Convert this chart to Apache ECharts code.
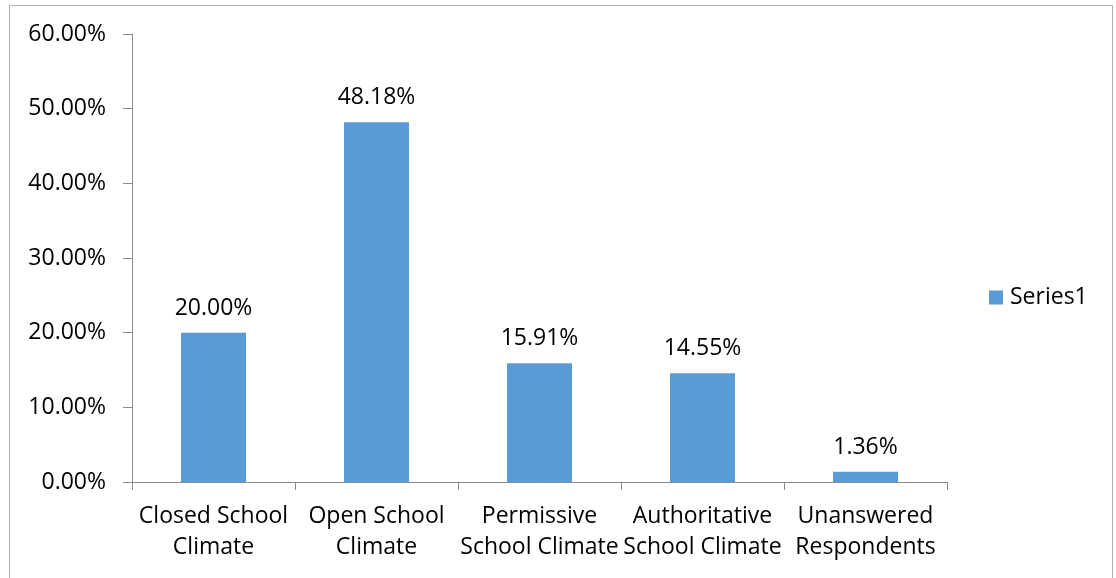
<!DOCTYPE html>
<html>
<head>
<meta charset="utf-8">
<script src="https://cdn.jsdelivr.net/npm/echarts@6/dist/echarts.min.js"></script>
<style>
  html, body { margin: 0; padding: 0; background: #fff; }
  #chart { width: 1116px; height: 578px; }
  #frame { position: absolute; left: 9px; top: 5px; width: 1104px; height: 580px; border: 1px solid #b0b0b0; box-sizing: border-box; pointer-events: none; }
</style>
</head>
<body>
<div id="chart"></div>
<div id="frame"></div>
<script>
// School climate categories and share of respondents (%)
const categories = [
  'Closed School\nClimate',
  'Open School\nClimate',
  'Permissive\nSchool Climate',
  'Authoritative\nSchool Climate',
  'Unanswered\nRespondents'
];
const series1 = [20.00, 48.18, 15.91, 14.55, 1.36];
const seriesName = 'Series1';
const yTicks = { min: 0, max: 60, interval: 10 };

const font = 'Open Sans, Noto Sans, sans-serif';
const fs = 23;
const axisGray = '#8c8c8c';

const chart = echarts.init(document.getElementById('chart'), null, { renderer: 'canvas' });
chart.setOption({
  animation: false,
  textStyle: { fontFamily: font },
  legend: {
    data: [seriesName],
    left: 989,
    top: 286,
    padding: 0,
    orient: 'vertical',
    icon: 'rect',
    itemWidth: 14,
    itemHeight: 14,
    textStyle: { fontSize: fs, color: '#000', fontFamily: font, padding: [0, 0, 0, 2] }
  },
  grid: { left: 132, right: 169, top: 34, bottom: 96 },
  xAxis: {
    type: 'category',
    data: categories,
    axisLine: { lineStyle: { color: axisGray, width: 1 } },
    axisTick: { show: true, length: 8, alignWithLabel: false, lineStyle: { color: axisGray } },
    axisLabel: { fontSize: fs, color: '#000', lineHeight: 31, margin: 19, interval: 0, fontFamily: font }
  },
  yAxis: {
    type: 'value',
    min: yTicks.min,
    max: yTicks.max,
    interval: yTicks.interval,
    axisLine: { show: true, lineStyle: { color: axisGray, width: 1 } },
    axisTick: { show: true, inside: false, length: 9, lineStyle: { color: axisGray } },
    splitLine: { show: false },
    axisLabel: {
      fontSize: fs, color: '#000', margin: 26, fontFamily: font,
      formatter: v => v.toFixed(2) + '%'
    }
  },
  series: [{
    name: seriesName,
    type: 'bar',
    data: series1,
    barWidth: 65,
    itemStyle: { color: '#5B9BD5' },
    label: {
      show: true,
      position: 'top',
      distance: 13,
      fontSize: fs,
      color: '#000',
      fontFamily: font,
      formatter: p => p.value.toFixed(2) + '%'
    }
  }]
});
</script>
</body>
</html>
